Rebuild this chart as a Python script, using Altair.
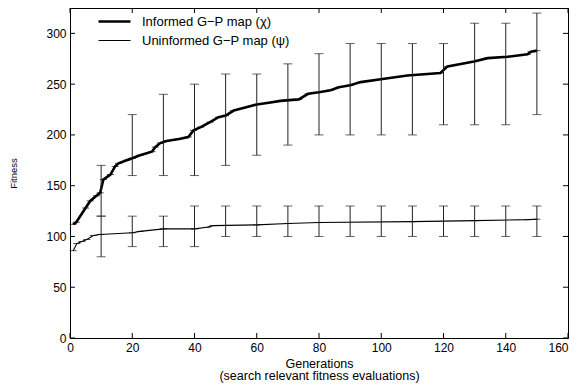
import altair as alt
import pandas as pd

# ---- data ----
inf_gen = [1, 2, 5, 6.5, 8.5, 9.7, 10.7, 13, 14.5, 15.6, 18.2, 20, 22.5, 26.3, 27.4, 29, 31,
           35, 38, 39.7, 42, 45, 47.7, 50, 52.6, 56.3, 60, 64.4, 67.6, 73.5, 76.5, 80, 83.7,
           86.4, 90, 93.4, 100.4, 108.4, 119, 121.3, 129.8, 134.2, 140.6, 147, 148.1, 150]
inf_fit = [112, 114, 128, 135, 140, 143, 156, 161, 169, 172, 175, 177, 180, 183.5, 188, 192, 194,
           196, 198, 204.5, 207.7, 212.6, 217.5, 219, 224, 227, 230, 232, 233.5, 235, 240.5, 242, 244,
           247, 249, 252, 255, 258.5, 261, 267.5, 272.4, 275.6, 277, 279.5, 282, 283]

uni_gen = [1, 2.2, 3.8, 5.4, 7.5, 9.7, 20, 22.5, 30, 40, 44, 46, 60, 70, 80, 110, 130, 147, 150]
uni_fit = [86, 93, 95, 97, 101, 102, 103.6, 105, 107.5, 107.5, 109, 110.7, 111.4, 112.7, 113.7,
           114.6, 115.6, 116.6, 117]

bar_gen = [10, 20, 30, 40, 50, 60, 70, 80, 90, 100, 110, 120, 130, 140, 150]
inf_low = [120, 160, 160, 160, 170, 180, 190, 200, 200, 200, 200, 210, 210, 210, 220]
inf_high = [170, 220, 240, 250, 260, 260, 270, 280, 290, 290, 290, 290, 310, 310, 320]
uni_low = [80, 90, 90, 90, 100, 100, 100, 100, 100, 100, 100, 100, 100, 100, 100]
uni_high = [120, 120, 120, 130, 130, 130, 130, 130, 130, 130, 130, 130, 130, 130, 130]

x_ticks = [0, 20, 40, 60, 80, 100, 120, 140, 160]
y_ticks = [0, 50, 100, 150, 200, 250, 300]

S_INF = "Informed G\u2212P map (\u03c7)"
S_UNI = "Uninformed G\u2212P map (\u03c8)"
series_names = [S_INF, S_UNI]

curves = pd.DataFrame({
    "gen": inf_gen + uni_gen,
    "fit": inf_fit + uni_fit,
    "series": [S_INF] * len(inf_gen) + [S_UNI] * len(uni_gen),
})
bars = pd.DataFrame({
    "gen": bar_gen * 2,
    "low": inf_low + uni_low,
    "high": inf_high + uni_high,
})
xt = pd.DataFrame({"gen": x_ticks})
yt = pd.DataFrame({"fit": y_ticks})

W, H = 498, 330
FONT = "Liberation Sans"
xs = alt.Scale(domain=[0, 160], nice=False, zero=False)
ys = alt.Scale(domain=[0, 325], nice=False)
X_TITLE = ["Generations", "(search relevant fitness evaluations)"]

x_axis = alt.Axis(values=x_ticks, ticks=False, labelPadding=4, labelFontSize=12, labelFont=FONT,
                  labelColor="black", domainColor="black", domainWidth=1, grid=False,
                  labelAlign=alt.condition("datum.value == 160", alt.value("right"), alt.value("center")),
                  title=X_TITLE,
                  titleFont=FONT, titleFontSize=12.5, titleFontWeight="normal", titleColor="black",
                  titlePadding=4, titleLineHeight=12.5, labelFlush=False)
y_axis = alt.Axis(values=y_ticks, ticks=False, labelPadding=4, labelFontSize=12, labelFont=FONT,
                  labelColor="black", domainColor="black", domainWidth=1, grid=False,
                  title="Fitness", titleFont=FONT, titleFontSize=9.5, titleFontWeight="normal",
                  titleColor="black", titleX=-57, titleY=H / 2, titleAngle=-90,
                  titleAlign="center", titleBaseline="middle", labelFlush=False)


def X(field="gen"):
    return alt.X(f"{field}:Q", scale=xs, axis=x_axis, title=X_TITLE)


def Y(field="fit"):
    return alt.Y(f"{field}:Q", scale=ys, axis=y_axis, title="Fitness")


lines = alt.Chart(curves).mark_line(interpolate="linear").encode(
    x=X(), y=Y(),
    color=alt.Color("series:N", scale=alt.Scale(domain=series_names, range=["black", "black"]),
                    legend=alt.Legend(orient="none", legendX=27, legendY=5, title=None,
                                      symbolType="stroke", symbolSize=1024, clipHeight=17,
                                      rowPadding=2, labelFontSize=13, labelFont=FONT,
                                      labelColor="black", labelOffset=10, padding=0)),
    strokeWidth=alt.StrokeWidth("series:N",
                                scale=alt.Scale(domain=series_names, range=[2.6, 1.1])),
)

small_caps = alt.Chart(curves).mark_tick(orient="horizontal", size=7, thickness=1, color="black").encode(
    x=X(), y=Y(),
)

err = alt.Chart(bars).mark_rule(color="#222222", strokeWidth=1).encode(
    x=X(), y=Y("low"), y2="high:Q",
)
cap_lo = alt.Chart(bars).mark_tick(orient="horizontal", size=9, thickness=1, color="#222222").encode(
    x=X(), y=Y("low"),
)
cap_hi = alt.Chart(bars).mark_tick(orient="horizontal", size=9, thickness=1, color="#222222").encode(
    x=X(), y=Y("high"),
)

# inward-pointing ticks on all four sides (MATLAB style)
tx_bot = alt.Chart(xt).mark_rule(color="black").encode(
    x=X(), y=alt.value(H), y2=alt.value(H - 5))
tx_top = alt.Chart(xt).mark_rule(color="black").encode(
    x=X(), y=alt.value(0), y2=alt.value(5))
ty_left = alt.Chart(yt).mark_rule(color="black").encode(
    y=Y(), x=alt.value(0), x2=alt.value(5))
ty_right = alt.Chart(yt).mark_rule(color="black").encode(
    y=Y(), x=alt.value(W), x2=alt.value(W - 5))

chart = alt.layer(
    lines, err, cap_lo, cap_hi, small_caps, tx_bot, tx_top, ty_left, ty_right
).properties(
    width=W, height=H,
    autosize=alt.AutoSizeParams(type="none"),
    padding={"left": 62, "top": 0, "right": 2, "bottom": 45},
    background="white",
).configure_view(stroke="black", strokeWidth=1)

chart.save("out.html", embed_options={"renderer": "svg", "actions": False})
